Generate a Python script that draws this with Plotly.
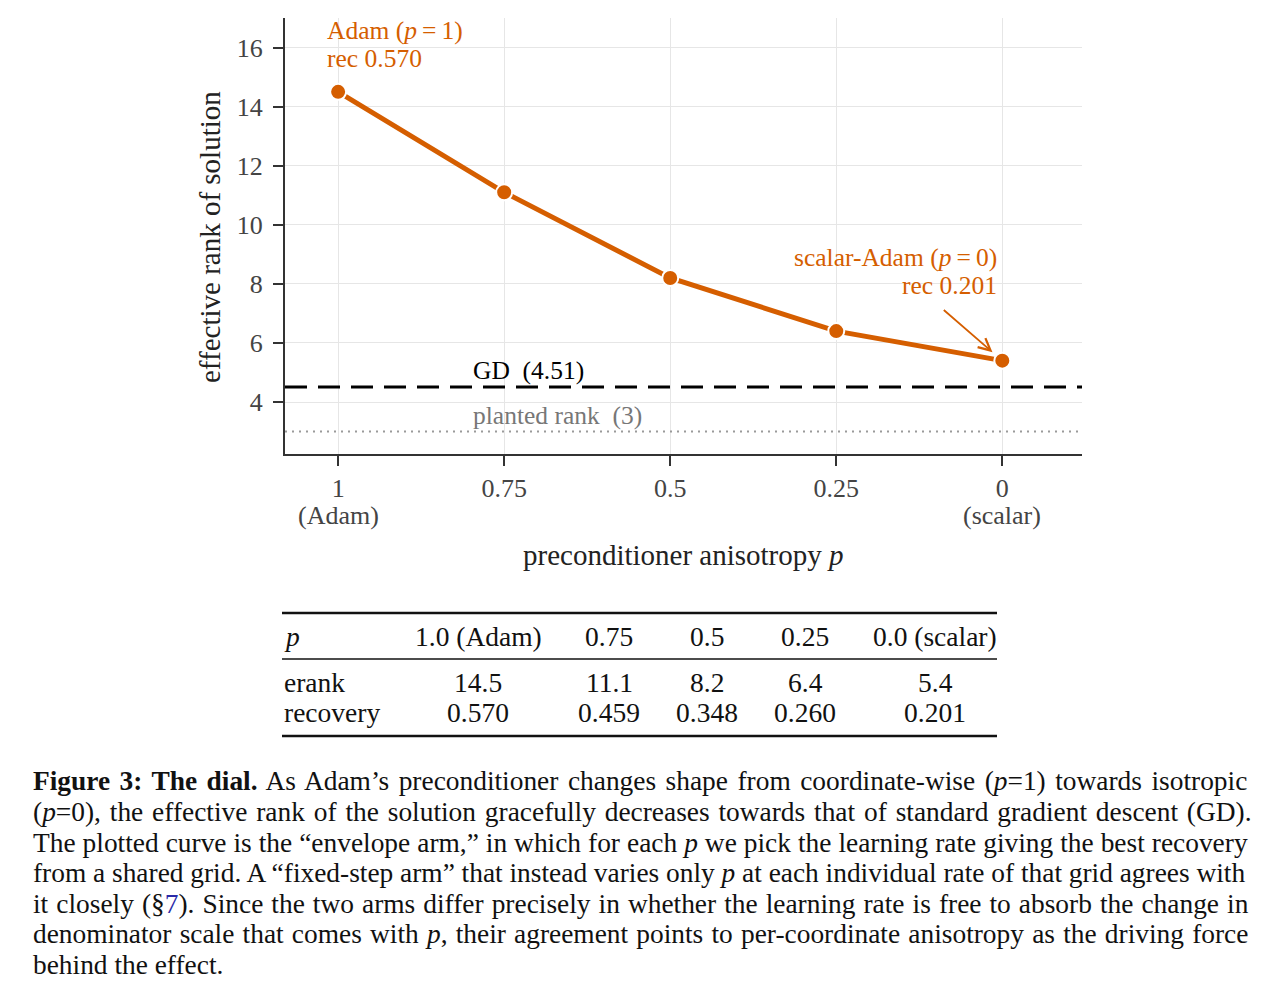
import plotly.graph_objects as go

p_vals = [1.0, 0.75, 0.5, 0.25, 0.0]
erank = [14.5, 11.1, 8.2, 6.4, 5.4]
recovery = [0.570, 0.459, 0.348, 0.260, 0.201]
p_ticktext = ["1", "0.75", "0.5", "0.25", "0"]
p_subtext = ["(Adam)", "", "", "", "(scalar)"]
y_ticks = [4, 6, 8, 10, 12, 14, 16]
gd_rank = 4.51
planted_rank = 3
table_header = ["1.0 (Adam)", "0.75", "0.5", "0.25", "0.0 (scalar)"]

caption_lines = [
    "<b>Figure 3: The dial.</b> As Adam\u2019s preconditioner changes shape from coordinate-wise (<i>p</i>=1) towards isotropic",
    "(<i>p</i>=0), the effective rank of the solution gracefully decreases towards that of standard gradient descent (GD).",
    "The plotted curve is the \u201cenvelope arm,\u201d in which for each <i>p</i> we pick the learning rate giving the best recovery",
    "from a shared grid. A \u201cfixed-step arm\u201d that instead varies only <i>p</i> at each individual rate of that grid agrees with",
    "it closely (\u00a7<span style='color:#2a2aa8'>7</span>). Since the two arms differ precisely in whether the learning rate is free to absorb the change in",
    "denominator scale that comes with <i>p</i>, their agreement points to per-coordinate anisotropy as the driving force",
    "behind the effect.",
]
# extra word spacing (px) to mimic the justified caption
caption_spacing = [2.65, 2.0, 0.15, -0.05, 1.2, 1.35, 0.0]

ORANGE = "#D55E00"
SERIF = "Liberation Serif"
W, H = 1280, 998
L, R, T, B = 285, 1082, 18, 454
OFF = 8  # page body margin


def px(x):
    return (x - L) / (R - L)


def py(y):
    return (B - y) / (B - T)


fig = go.Figure()

fig.add_trace(go.Scatter(
    x=p_vals, y=erank, mode="lines+markers",
    line=dict(color=ORANGE, width=5),
    marker=dict(size=16, color=ORANGE, line=dict(color="white", width=2)),
    showlegend=False, hoverinfo="skip",
))

# reference lines
fig.add_shape(type="line", xref="paper", x0=0, x1=1, yref="y", y0=gd_rank, y1=gd_rank,
              line=dict(color="black", width=3, dash="22px,11px"))
fig.add_shape(type="line", xref="paper", x0=0, x1=1, yref="y", y0=planted_rank, y1=planted_rank,
              line=dict(color="#9a9a9a", width=2, dash="2px,5px"))

ann_font = dict(family=SERIF, size=25.5, color=ORANGE)
annots = []
annots.append(dict(x=p_vals[0], y=16.58, xref="x", yref="y", xanchor="left", yanchor="middle",
                   xshift=-13, showarrow=False,
                   text="Adam (<i>p</i>\u2009=\u20091)", font=ann_font))
annots.append(dict(x=p_vals[0], y=15.63, xref="x", yref="y", xanchor="left", yanchor="middle",
                   xshift=-13, showarrow=False,
                   text="rec %.3f" % recovery[0], font=ann_font))
annots.append(dict(x=p_vals[-1], y=8.88, xref="x", yref="y", xanchor="right", yanchor="middle",
                   xshift=-3, showarrow=False,
                   text="scalar-Adam (<i>p</i>\u2009=\u20090)", font=ann_font))
annots.append(dict(x=p_vals[-1], y=7.93, xref="x", yref="y", xanchor="right", yanchor="middle",
                   xshift=-3, showarrow=False,
                   text="rec %.3f" % recovery[-1], font=ann_font))
annots.append(dict(x=p_vals[-1], y=erank[-1], xref="x", yref="y", text="", showarrow=True,
                   ax=-60, ay=-52, arrowcolor=ORANGE, arrowwidth=1.8, arrowhead=5,
                   arrowsize=1.3, standoff=13))
annots.append(dict(x=0.80, y=5.08, xref="x", yref="y", xanchor="left", yanchor="middle",
                   showarrow=False, text="GD\u2002(%.2f)" % gd_rank,
                   font=dict(family=SERIF, size=25.5, color="black")))
annots.append(dict(x=0.80, y=3.56, xref="x", yref="y", xanchor="left", yanchor="middle",
                   showarrow=False, text="planted rank\u2002(%d)" % planted_rank,
                   font=dict(family=SERIF, size=25.5, color="#777777")))

# second line of the x tick labels
for xv, sub in zip(p_vals, p_subtext):
    if sub:
        annots.append(dict(x=xv, y=py(516), xref="x", yref="paper", xanchor="center",
                           yanchor="middle", showarrow=False, text=sub,
                           font=dict(family=SERIF, size=26, color="#444")))

# axis titles
annots.append(dict(x=0.5, y=py(555), xref="paper", yref="paper", xanchor="center", yanchor="middle",
                   showarrow=False, text="preconditioner anisotropy <i>p</i>",
                   font=dict(family=SERIF, size=29, color="#222")))
annots.append(dict(x=px(210), y=py(237), xref="paper", yref="paper", xanchor="center", yanchor="middle",
                   showarrow=False, textangle=-90, text="effective rank of solution",
                   font=dict(family=SERIF, size=29, color="#222")))

# table (booktabs style)
tab_font = dict(family=SERIF, size=27.5, color="#111")
col_x = [478, 609, 707, 805, 935]
row_y = {"head": 636, "erank": 682, "rec": 712}
for lbl, key in [("<i>p</i>", "head"), ("erank", "erank"), ("recovery", "rec")]:
    annots.append(dict(x=px(282), y=py(row_y[key]), xref="paper", yref="paper", xanchor="left",
                       yanchor="middle", showarrow=False, text=lbl, font=tab_font))
for cx, h, e, r in zip(col_x, table_header, erank, recovery):
    for yy, txt in [(row_y["head"], h), (row_y["erank"], "%.1f" % e), (row_y["rec"], "%.3f" % r)]:
        annots.append(dict(x=px(cx), y=py(yy), xref="paper", yref="paper", xanchor="center",
                           yanchor="middle", showarrow=False, text=txt, font=tab_font))
for yy, w in [(613, 2.5), (659, 1.5), (736, 2.5)]:
    fig.add_shape(type="line", xref="paper", yref="paper", x0=px(282), x1=px(997),
                  y0=py(yy), y1=py(yy), line=dict(color="#111", width=w))

# caption
cap_y = [781, 812, 843, 873, 904, 934, 965]
for yy, line, ws in zip(cap_y, caption_lines, caption_spacing):
    annots.append(dict(x=px(31), y=py(yy), xref="paper", yref="paper", xanchor="left",
                       yanchor="middle", showarrow=False,
                       text="<span style='word-spacing:%.2fpx'>%s</span>" % (ws, line),
                       font=dict(family=SERIF, size=27.4, color="#111")))

axis_common = dict(showgrid=True, gridcolor="#e6e6e6", gridwidth=1, zeroline=False,
                   showline=True, linecolor="#333", linewidth=2, ticks="outside",
                   ticklen=10, tickwidth=2, tickcolor="#333",
                   tickfont=dict(family=SERIF, size=26, color="#444"))

fig.update_layout(
    width=W, height=H,
    margin=dict(l=L - OFF, r=W - R + OFF, t=T - OFF, b=H - B + OFF),
    paper_bgcolor="white", plot_bgcolor="white",
    xaxis=dict(range=[1.08, -0.12], tickvals=p_vals, ticktext=p_ticktext, **axis_common),
    yaxis=dict(range=[2.24, 17.0], tickvals=y_ticks, ticklabelstandoff=5, **axis_common),
    annotations=annots,
    showlegend=False,
)

fig.write_html("out.html")
